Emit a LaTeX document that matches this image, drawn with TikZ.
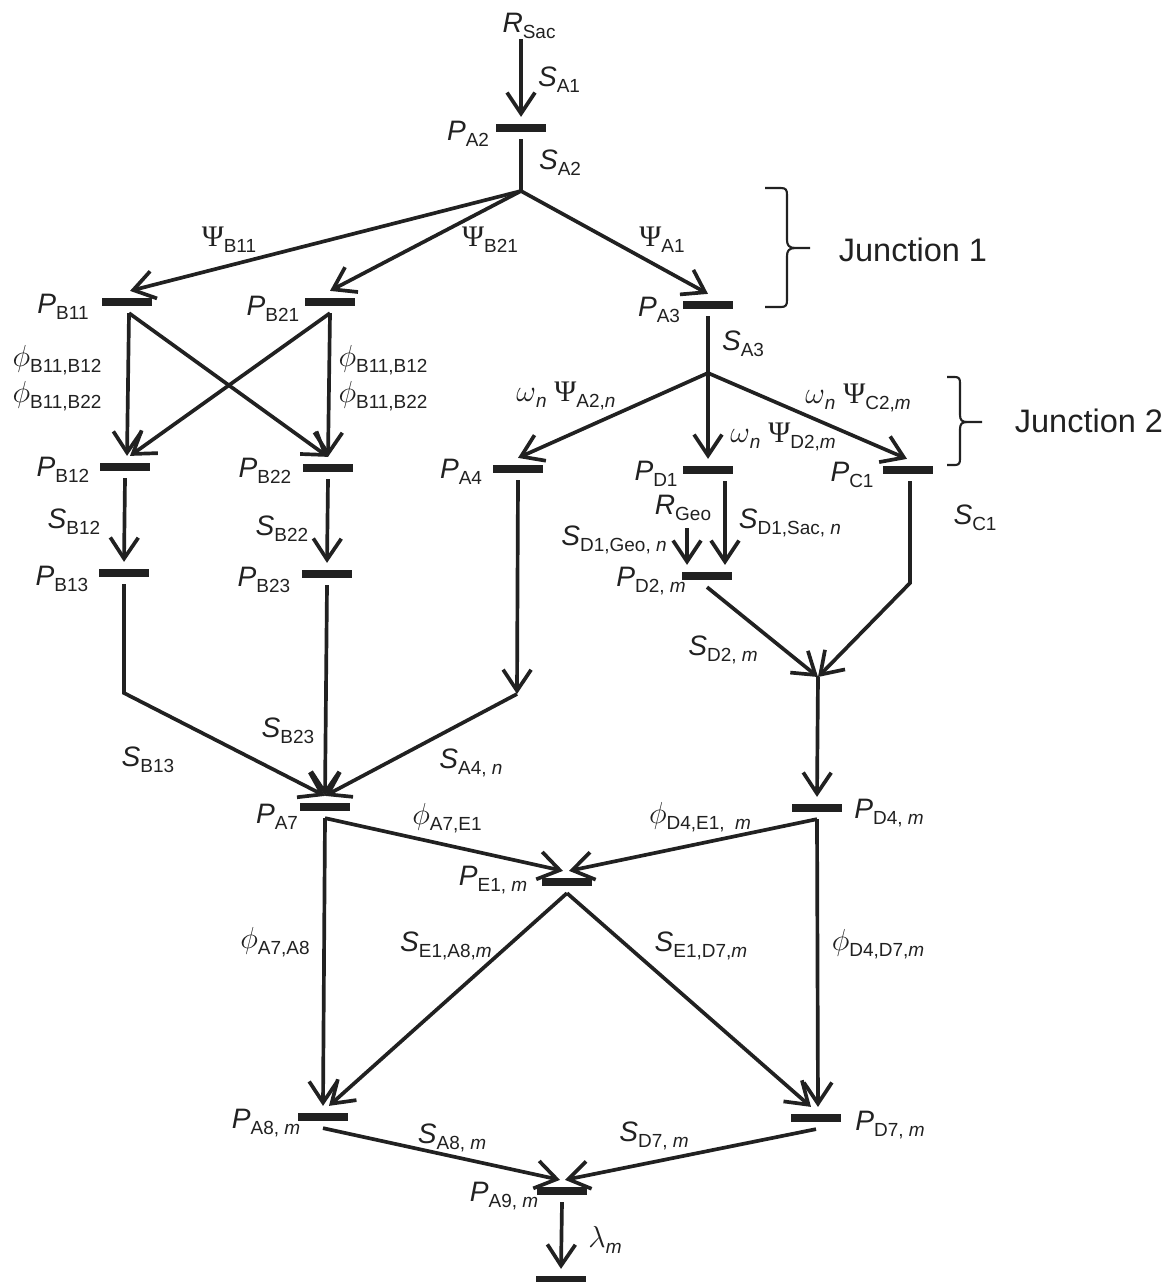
\documentclass[tikz,border=0pt]{standalone}
\usepackage{fontspec}
\setmainfont{Liberation Sans}
\newfontfamily\grk{Liberation Serif}
\usetikzlibrary{arrows.meta}
\definecolor{ink}{gray}{0.13}
\newcommand{\sbs}[1]{\raisebox{-3.6pt}{\fontsize{10.8}{12}\selectfont #1}}
\newcommand{\vv}[2]{\textit{#1}\sbs{#2}}
\newcommand{\gv}[2]{$#1$\sbs{#2}}
\newcommand{\psv}[1]{{\grk\fontsize{17}{19}\selectfont Ψ}\sbs{#1}}
\begin{document}
\begin{tikzpicture}[x=0.02cm,y=-0.02cm,
  bar/.style={fill=ink,draw=none,inner sep=0pt,minimum width=1cm,minimum height=0.15cm},
  lbl/.style={inner sep=0pt,text=ink,font=\fontsize{16}{19}\selectfont},
  jlbl/.style={inner sep=0pt,text=ink,font=\fontsize{18.5}{22}\selectfont},
  conn/.style={draw=ink,line width=2.1pt},
  arr/.style={conn,-{Straight Barb[length=0.42cm,width=0.56cm]}},
  brc/.style={draw=ink,line width=1.2pt}]
\useasboundingbox (0,0) rectangle (1174,1282);

% bars
\node[bar] (A2)  at (521,128) {};
\node[bar] (B11) at (127,302) {};
\node[bar] (B21) at (330,302) {};
\node[bar] (A3)  at (708,305) {};
\node[bar] (B12) at (125,467) {};
\node[bar] (B22) at (328,468) {};
\node[bar] (A4)  at (518,469) {};
\node[bar] (D1)  at (708,470) {};
\node[bar] (C1)  at (908,470) {};
\node[bar] (B13) at (124,573) {};
\node[bar] (B23) at (327,574) {};
\node[bar] (D2)  at (707,576) {};
\node[bar] (A7)  at (325,807) {};
\node[bar] (D4)  at (817,808) {};
\node[bar] (E1)  at (567,882) {};
\node[bar] (A8)  at (323,1117) {};
\node[bar] (D7)  at (816,1118) {};
\node[bar] (A9)  at (562,1191) {};
\node[bar] (END) at (561,1280) {};

% junction points and corners
\coordinate (J1) at (521,191);
\coordinate (J2) at (708,373);
\coordinate (J3) at (818,677);
\coordinate (cB13) at (124,693);
\coordinate (cA4) at (517,694);
\coordinate (cC1) at (910,583);
\coordinate (geo) at (687,528);

% labels
\node[lbl] (RSac) at (529,26) {\vv{R}{Sac}};
\node[lbl] (lSA1) at (559,80) {\vv{S}{A1}};
\node[lbl] (lPA2) at (468,134) {\vv{P}{A2}};
\node[lbl] (lSA2) at (560,163) {\vv{S}{A2}};
\node[lbl] (lPsiB11) at (229,240) {\psv{B11}};
\node[lbl] (lPsiB21) at (490,240) {\psv{B21}};
\node[lbl] (lPsiA1) at (662,240) {\psv{A1}};
\node[lbl] (lPB11) at (63,307) {\vv{P}{B11}};
\node[lbl] (lPB21) at (273,309) {\vv{P}{B21}};
\node[lbl] (lPA3) at (659,310) {\vv{P}{A3}};
\node[lbl] (lSA3) at (743,344) {\vv{S}{A3}};
\node[lbl] (lf1) at (57,360) {\gv{\phi}{B11,B12}};
\node[lbl] (lf2) at (57,396) {\gv{\phi}{B11,B22}};
\node[lbl] (lf3) at (383,360) {\gv{\phi}{B11,B12}};
\node[lbl] (lf4) at (383,396) {\gv{\phi}{B11,B22}};
\node[lbl] (lwA2) at (566,396) {\gv{\omega}{\textit{n}}\ \psv{A2,\textit{n}}};
\node[lbl] (lwD2) at (783,437) {\gv{\omega}{\textit{n}}\ \psv{D2,\textit{m}}};
\node[lbl] (lwC2) at (858,398) {\gv{\omega}{\textit{n}}\ \psv{C2,\textit{m}}};
\node[jlbl] (jn1) at (913,250) {Junction 1};
\node[jlbl] (jn2) at (1089,421) {Junction 2};
\node[lbl] (lPB12) at (63,470) {\vv{P}{B12}};
\node[lbl] (lPB22) at (265,471) {\vv{P}{B22}};
\node[lbl] (lPA4) at (461,472) {\vv{P}{A4}};
\node[lbl] (lPD1) at (656,474) {\vv{P}{D1}};
\node[lbl] (lPC1) at (852,475) {\vv{P}{C1}};
\node[lbl] (RGeo) at (683,508) {\vv{R}{Geo}};
\node[lbl] (lSD1G) at (614,540) {\vv{S}{D1,Geo, \textit{n}}};
\node[lbl] (lSD1S) at (790,523) {\vv{S}{D1,Sac, \textit{n}}};
\node[lbl] (lSC1) at (975,518) {\vv{S}{C1}};
\node[lbl] (lSB12) at (74,522) {\vv{S}{B12}};
\node[lbl] (lSB22) at (282,529) {\vv{S}{B22}};
\node[lbl] (lPB13) at (62,579) {\vv{P}{B13}};
\node[lbl] (lPB23) at (264,580) {\vv{P}{B23}};
\node[lbl] (lPD2) at (651,581) {\vv{P}{D2, \textit{m}}};
\node[lbl] (lSD2) at (723,650) {\vv{S}{D2, \textit{m}}};
\node[lbl] (lSB23) at (288,731) {\vv{S}{B23}};
\node[lbl] (lSB13) at (148,760) {\vv{S}{B13}};
\node[lbl] (lSA4) at (471,763) {\vv{S}{A4, \textit{n}}};
\node[lbl] (lPA7) at (277,817) {\vv{P}{A7}};
\node[lbl] (lfA7E1) at (447,818) {\gv{\phi}{A7,E1}};
\node[lbl] (lfD4E1) at (700,817) {\gv{\phi}{D4,E1,\ \ \textit{m}}};
\node[lbl] (lPD4) at (889,813) {\vv{P}{D4, \textit{m}}};
\node[lbl] (lPE1) at (493,880) {\vv{P}{E1, \textit{m}}};
\node[lbl] (lfA7A8) at (275,942) {\gv{\phi}{A7,A8}};
\node[lbl] (lSE1A8) at (446,946) {\vv{S}{E1,A8,\textit{m}}};
\node[lbl] (lSE1D7) at (701,946) {\vv{S}{E1,D7,\textit{m}}};
\node[lbl] (lfD4D7) at (878,944) {\gv{\phi}{D4,D7,\textit{m}}};
\node[lbl] (lPA8) at (266,1123) {\vv{P}{A8, \textit{m}}};
\node[lbl] (lSA8) at (452,1138) {\vv{S}{A8, \textit{m}}};
\node[lbl] (lSD7) at (654,1136) {\vv{S}{D7, \textit{m}}};
\node[lbl] (lPD7) at (890,1125) {\vv{P}{D7, \textit{m}}};
\node[lbl] (lPA9) at (504,1196) {\vv{P}{A9, \textit{m}}};
\node[lbl] (llam) at (605,1240) {\gv{\lambda}{\textit{m}}};

% connectors
\draw[arr] (A2.north |- RSac.south) -- ([yshift=4pt]A2.north);
\draw[conn] ([yshift=-4pt]A2.south) -- (J1);
\draw[arr] (J1) -- ([xshift=0.06cm,yshift=4pt]B11.north);
\draw[arr] (J1) -- ([yshift=4pt]B21.north);
\draw[arr] (J1) -- ([yshift=4pt]A3.north);
\draw[conn] ([yshift=-4pt]A3.south) -- (J2);
\draw[arr] (J2) -- ([yshift=4pt]A4.north);
\draw[arr] (J2) -- ([yshift=4pt]D1.north);
\draw[arr] (J2) -- ([xshift=-0.02cm,yshift=4pt]C1.north);

\draw[arr] ([xshift=0.04cm,yshift=-4pt]B11.south) -- ([xshift=0.04cm,yshift=4pt]B12.north);
\draw[arr] ([xshift=0.04cm,yshift=-4pt]B11.south) -- ([yshift=4pt]B22.north);
\draw[arr] ([yshift=-4pt]B21.south) -- ([yshift=4pt]B22.north);
\draw[arr] ([yshift=-4pt]B21.south) -- ([xshift=0.1cm,yshift=4pt]B12.north);

\draw[arr] ([yshift=-4pt]B12.south) -- ([yshift=4pt]B13.north);
\draw[arr] ([yshift=-4pt]B22.south) -- ([yshift=4pt]B23.north);

\draw[arr] ([yshift=-4pt]B13.south) -- (cB13) -- ([yshift=4pt]A7.north);
\draw[arr] ([yshift=-4pt]B23.south) -- ([yshift=4pt]A7.north);
\draw[arr] ([yshift=-4pt]A4.south) -- (cA4);
\draw[arr] (cA4) -- ([yshift=4pt]A7.north);

\draw[arr] (geo) -- ([xshift=-0.4cm,yshift=4pt]D2.north);
\draw[arr] ([xshift=0.34cm,yshift=-4pt]D1.south) -- ([xshift=0.36cm,yshift=4pt]D2.north);
\draw[arr] ([yshift=-4pt]D2.south) -- (J3);
\draw[arr] ([xshift=0.04cm,yshift=-4pt]C1.south) -- (cC1) -- (J3);
\draw[arr] (J3) -- ([yshift=4pt]D4.north);

\draw[arr] ([yshift=-4pt]A7.south) -- ([xshift=-0.08cm,yshift=4pt]E1.north);
\draw[arr] ([yshift=-4pt]D4.south) -- ([xshift=0.04cm,yshift=4pt]E1.north);
\draw[arr] ([yshift=-4pt]A7.south) -- ([yshift=4pt]A8.north);
\draw[arr] ([yshift=-4pt]E1.south) -- ([xshift=0.12cm,yshift=4pt]A8.north);
\draw[arr] ([yshift=-4pt]E1.south) -- ([xshift=-0.1cm,yshift=4pt]D7.north);
\draw[arr] ([yshift=-4pt]D4.south) -- ([xshift=0.04cm,yshift=4pt]D7.north);

\draw[arr] ([yshift=-4pt]A8.south) -- ([xshift=-0.04cm,yshift=4pt]A9.north);
\draw[arr] ([yshift=-4pt]D7.south) -- ([xshift=0.06cm,yshift=4pt]A9.north);
\draw[arr] ([yshift=-4pt]A9.south) -- ([yshift=4pt]END.north);

% braces
\draw[brc] (765,188) -- (781,188) .. controls (786,188) and (787,190) .. (787,195)
  -- (787,240) .. controls (787,245) and (789,248) .. (795,248) -- (810,248);
\draw[brc] (795,248) .. controls (789,248) and (787,251) .. (787,256)
  -- (787,300) .. controls (787,305) and (786,307) .. (781,307) -- (765,307);
\draw[brc] (947,377) -- (955,377) .. controls (959,377) and (960,379) .. (960,383)
  -- (960,415) .. controls (960,420) and (962,422) .. (967,422) -- (982,422);
\draw[brc] (967,422) .. controls (962,422) and (960,424) .. (960,429)
  -- (960,459) .. controls (960,463) and (959,465) .. (955,465) -- (947,465);
\end{tikzpicture}
\end{document}
